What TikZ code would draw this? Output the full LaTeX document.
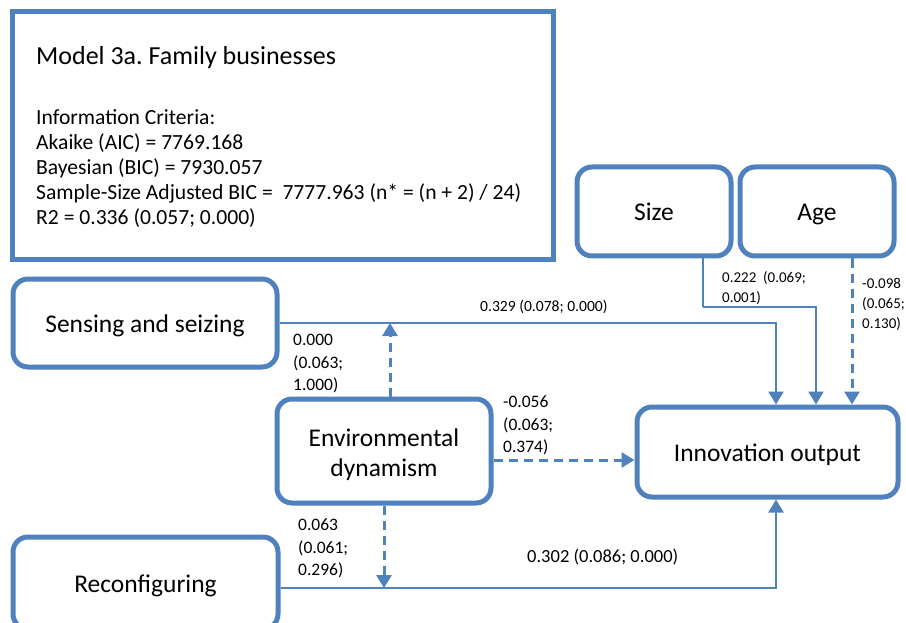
\documentclass[tikz,border=0pt]{standalone}
\usepackage{fontspec}
\setmainfont{Carlito}
\usetikzlibrary{arrows.meta}
\definecolor{blueA}{RGB}{79,129,189}
\tikzset{
  boxnode/.style={draw=blueA, line width=5pt, rounded corners=15pt, fill=white, align=center, inner sep=0pt, font=\fontsize{25.5pt}{30pt}\selectfont},
  oneline/.style={text height=20pt, text depth=2pt},
  conn/.style={draw=blueA, line width=2.5pt, -{Triangle[length=13pt,width=15pt]}},
  dconn/.style={conn, line width=3pt, dash pattern=on 9pt off 6pt},
  infotext/.style={anchor=base west, inner sep=0pt, font=\fontsize{21.6pt}{25pt}\selectfont},
  lblS/.style={anchor=base west, inner sep=0pt, align=left, font=\fontsize{15pt}{20pt}\selectfont},
  lblM/.style={anchor=base west, inner sep=0pt, align=left, font=\fontsize{17.5pt}{22.5pt}\selectfont},
}
\frenchspacing
\begin{document}
\begin{tikzpicture}[x=1pt,y=-1pt]
\clip (0,0) rectangle (906,623);
\fill[white] (0,0) rectangle (906,623);
% information box
\node[draw=blueA, line width=5pt, minimum width=541pt, minimum height=248pt, inner sep=0pt] (info) at (282.5,136) {};
\node[infotext, font=\fontsize{26pt}{30pt}\selectfont] (title) at (36,65) {Model 3a. Family businesses};
\node[infotext] (ic1) at (36,125) {Information Criteria:};
\node[infotext] (ic2) at (36,150) {Akaike (AIC) = 7769.168};
\node[infotext] (ic3) at (36,175) {Bayesian (BIC) = 7930.057};
\node[infotext] (ic4) at (36,200) {Sample-Size Adjusted BIC =\ \ 7777.963 (n* = (n + 2) / 24)};
\node[infotext] (ic5) at (36,225) {R2 = 0.336 (0.057; 0.000)};
% boxes
\node[boxnode, oneline, minimum width=264pt, minimum height=88pt] (sensing) at (145,323) {Sensing and seizing};
\node[boxnode, minimum width=214pt, minimum height=104pt] (env) at (384,451) {\rule{0pt}{26pt}Environmental\\dynamism};
\node[boxnode, oneline, minimum width=261pt, minimum height=90pt] (innov) at (767.5,452) {Innovation output};
\node[boxnode, oneline, minimum width=154pt, minimum height=89pt] (size) at (654,211.5) {Size};
\node[boxnode, oneline, minimum width=154pt, minimum height=89pt] (age) at (817,211.5) {Age};
\node[boxnode, oneline, minimum width=265pt, minimum height=92pt] (reconf) at (145.5,583) {Reconfiguring};
% helper coordinates
\coordinate (x1) at (776,0);
\coordinate (x2) at (816,0);
\coordinate (x3) at (852,0);
\coordinate (sb) at (703,307);
\coordinate (p1) at (390,323);
\coordinate (p2) at (384,588);
\coordinate (y1) at (0,460);
% connectors
\draw[conn, -] (size.south -| sb) -- (sb);
\draw[conn] (sb) -| (innov.north -| x2);
\draw[conn] (sensing.east) -| (innov.north -| x1);
\draw[dconn] (age.south -| x3) -- (innov.north -| x3);
\draw[dconn] (env.north -| p1) -- (p1);
\draw[dconn] (env.east |- y1) -- (innov.west |- y1);
\draw[dconn] (env.south -| p2) -- (p2);
\draw[conn] (reconf.east |- p2) -| (innov.south -| x1);
% labels (base anchor = last line baseline)
\node[anchor=base west, inner sep=0pt, font=\fontsize{15.6pt}{20pt}\selectfont] (l1) at (480,312) {0.329 (0.078; 0.000)};
\node[lblS] (l2) at (722,302) {0.222\ \ (0.069;\\0.001)};
\node[lblS] (l3) at (862,328) {-0.098\\(0.065;\\0.130)};
\node[lblM] (l4) at (293,390.5) {0.000\\(0.063;\\1.000)};
\node[lblM] (l5) at (503,452.5) {-0.056\\(0.063;\\0.374)};
\node[lblM] (l6) at (298,575.5) {0.063\\(0.061;\\0.296)};
\node[anchor=base west, inner sep=0pt, font=\fontsize{18.5pt}{22pt}\selectfont] (l7) at (527,562) {0.302 (0.086; 0.000)};
\end{tikzpicture}
\end{document}
